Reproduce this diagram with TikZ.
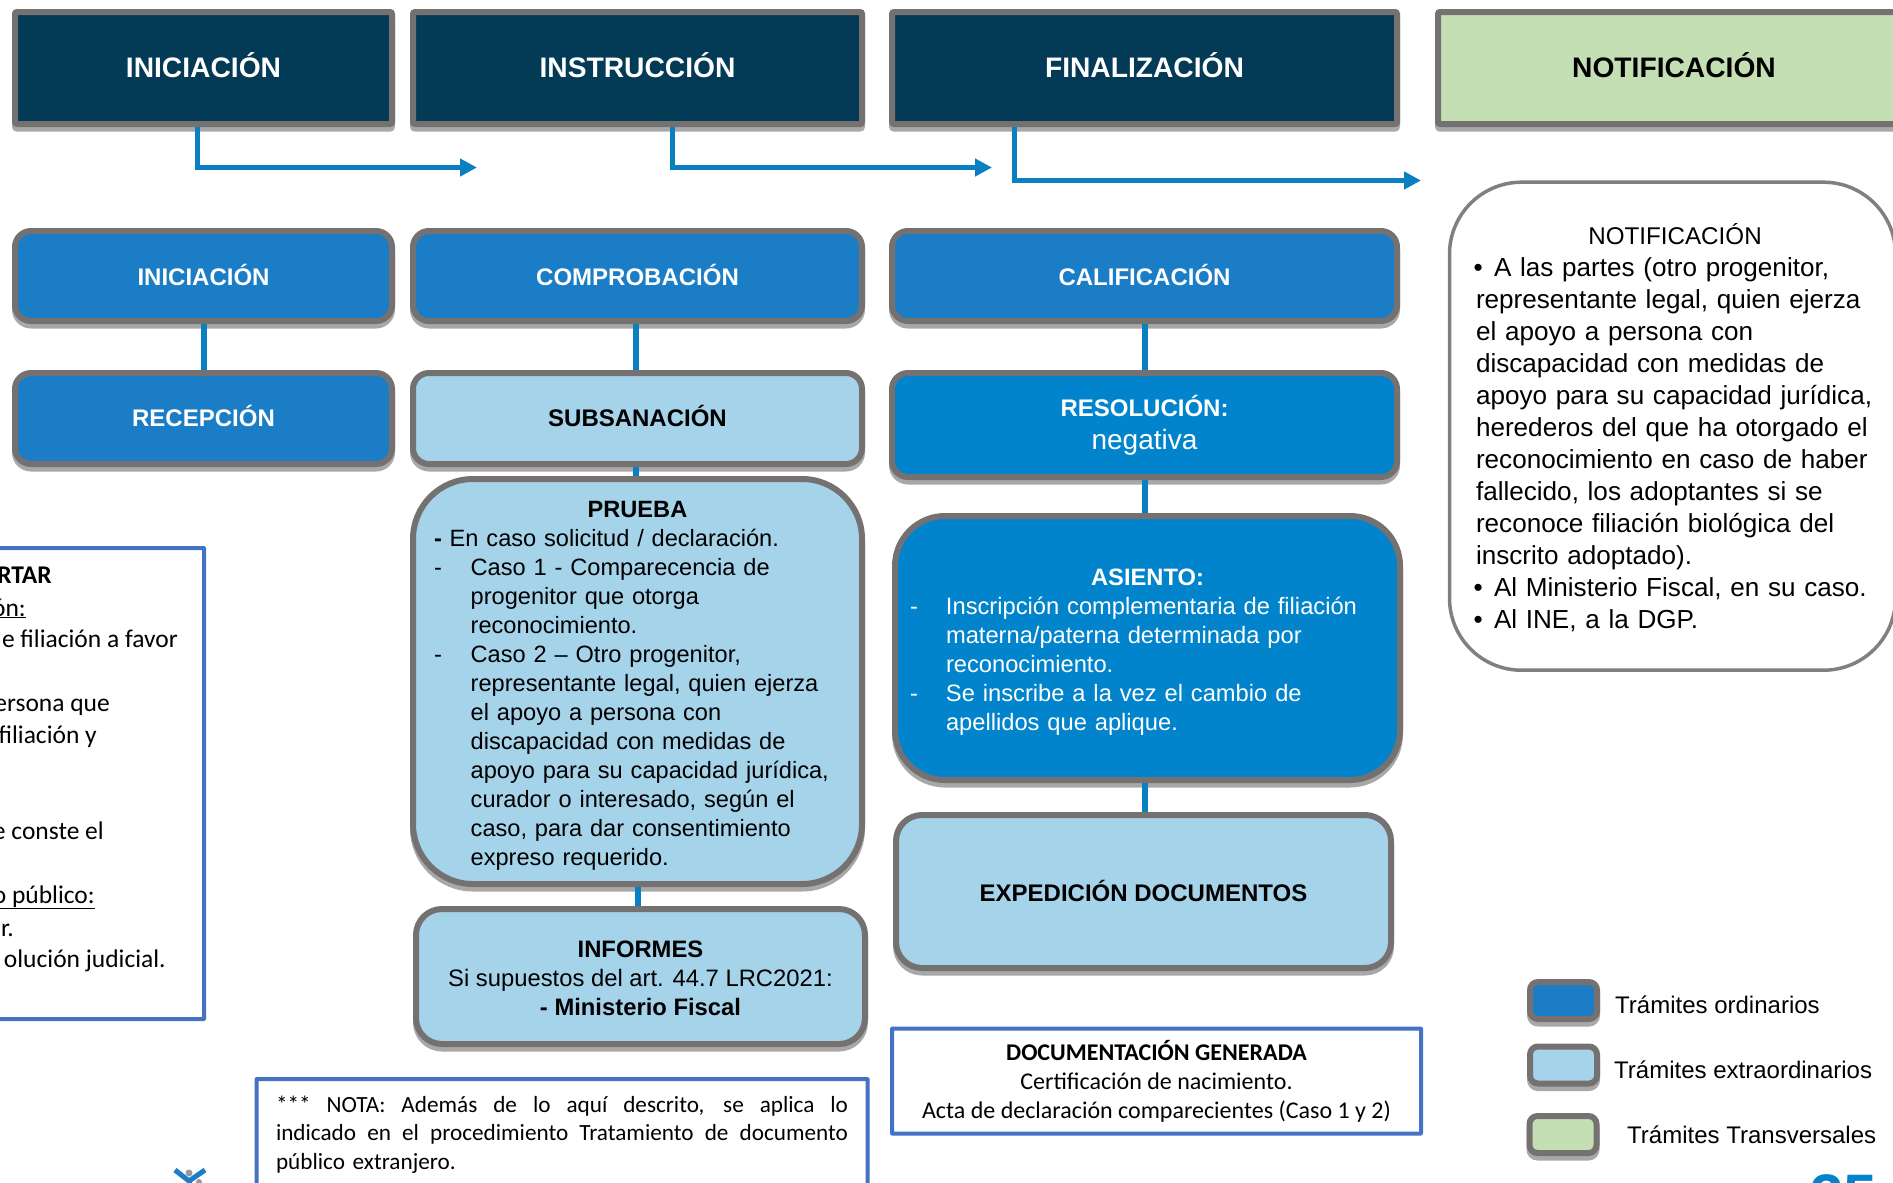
\documentclass[tikz,border=0pt]{standalone}
\usepackage{fontspec}
\setmainfont{Liberation Sans}
\newfontfamily\calib{Carlito}
\usetikzlibrary{arrows.meta,shadows,calc}
\definecolor{darknavy}{HTML}{033A56}
\definecolor{ordblue}{HTML}{1A7DC6}
\definecolor{resblue}{HTML}{0284CC}
\definecolor{lightblue}{HTML}{A5D3E9}
\definecolor{lightgreen}{HTML}{C5DFB4}
\definecolor{edgegrey}{HTML}{767171}
\definecolor{shadegrey}{HTML}{A8A8A8}
\definecolor{flowblue}{HTML}{0A7FC2}
\definecolor{noteblue}{HTML}{4472C4}
\newcommand\fsz[2]{\fontsize{#1pt}{#2pt}\selectfont}
\newcommand\bubline{\hspace*{3.5pt}}
\newcommand\bubitem{\makebox[18pt][l]{\hspace*{-2.5pt}•}}
\newcommand\fullline[1]{\leavevmode\hbox to 572pt{\spaceskip=5pt plus 1fil\relax #1}}
\tikzset{
  x=1pt,y=-1pt,
  boxbase/.style={draw=edgegrey,line width=6pt,inner sep=0pt,align=center,
    general shadow={fill=shadegrey,draw=shadegrey,line width=6pt,shadow yshift=-4.5pt}},
  topbox/.style={boxbase,rounded corners=2pt,font=\bfseries\fsz{28.2}{33},text depth=5pt},
  midbox/.style={boxbase,rounded corners=16pt,font=\bfseries\fsz{24}{29}},
  ordinary/.style={fill=ordblue,text=white},
  resolved/.style={fill=resblue,text=white},
  extra/.style={fill=lightblue,text=black},
  transversal/.style={fill=lightgreen,text=black},
  note/.style={draw=noteblue,line width=4pt,fill=white,inner sep=0pt,rounded corners=0.5pt},
  noteline/.style={font=\calib\fsz{25.5}{32},inner sep=0pt,anchor=base east},
  conn/.style={draw=flowblue,line width=6pt},
  flow/.style={draw=flowblue,line width=5pt,-{Triangle[length=17pt,width=17pt]}},
  legendbox/.style={boxbase,rounded corners=8pt,minimum width=67pt,minimum height=37pt},
  legendtext/.style={font=\fsz{24}{28},inner sep=0pt,anchor=west},
}
\begin{document}
\begin{tikzpicture}
\useasboundingbox (0,0) rectangle (1893,1183);
% top row
\node[topbox,fill=darknavy,text=white,minimum width=377pt,minimum height=112pt] (topini) at (203.5,68) {INICIACIÓN};
\node[topbox,fill=darknavy,text=white,minimum width=449pt,minimum height=112pt] (topins) at (637.5,68) {INSTRUCCIÓN};
\node[topbox,fill=darknavy,text=white,minimum width=505pt,minimum height=112pt] (topfin) at (1144.5,68) {FINALIZACIÓN};
\node[topbox,transversal,minimum width=472pt,minimum height=112pt] (topnot) at (1674,68) {NOTIFICACIÓN};
% second row
\node[midbox,ordinary,text depth=2.5pt,minimum width=377pt,minimum height=90pt] (ini) at (203.5,276) {INICIACIÓN};
\node[midbox,ordinary,text depth=2.5pt,minimum width=449pt,minimum height=90pt] (com) at (637.5,276) {COMPROBACIÓN};
\node[midbox,ordinary,text depth=2.5pt,minimum width=505pt,minimum height=90pt] (cal) at (1144.5,276) {CALIFICACIÓN};
% third row
\node[midbox,ordinary,text depth=5pt,minimum width=377pt,minimum height=91pt] (rec) at (203.5,418.5) {RECEPCIÓN};
\node[midbox,extra,text depth=5pt,minimum width=449pt,minimum height=91pt] (sub) at (637.5,418.5) {SUBSANACIÓN};
\node[midbox,resolved,minimum width=505pt,minimum height=104pt] (res) at (1144.5,425) {\rule{0pt}{22pt}RESOLUCIÓN:\\[3.4pt]{\mdseries\fsz{28}{31}negativa}};
% prueba
\node[boxbase,extra,rounded corners=60pt,minimum width=449pt,minimum height=405pt,text width=407pt,align=left,font=\fsz{23.6}{29}] (pru) at (637.5,681.5) {%
\makebox[407pt][c]{\rule{0pt}{24pt}\textbf{PRUEBA}}\\
\textbf{-} En caso solicitud / declaración.\\
\makebox[36.7pt][l]{-}Caso 1 - Comparecencia de\\
\hspace*{36.7pt}progenitor que otorga\\
\hspace*{36.7pt}reconocimiento.\\
\makebox[36.7pt][l]{-}Caso 2 – Otro progenitor,\\
\hspace*{36.7pt}representante legal, quien ejerza\\
\hspace*{36.7pt}el apoyo a persona con\\
\hspace*{36.7pt}discapacidad con medidas de\\
\hspace*{36.7pt}apoyo para su capacidad jurídica,\\
\hspace*{36.7pt}curador o interesado, según el\\
\hspace*{36.7pt}caso, para dar consentimiento\\
\hspace*{36.7pt}expreso requerido.};
% informes
\node[boxbase,extra,rounded corners=26pt,minimum width=449pt,minimum height=135pt,font=\fsz{23.8}{29}] (inf) at (640.5,976.5) {\rule{0pt}{20pt}\textbf{INFORMES}\\Si supuestos del art. 44.7 LRC2021:\\\textbf{- Ministerio Fiscal}};
% asiento
\node[boxbase,resolved,rounded corners=50pt,minimum width=505pt,minimum height=264pt,text width=475pt,align=left,font=\fsz{23.7}{29}] (asi) at (1147.5,648) {%
\makebox[475pt][c]{\rule{0pt}{24pt}\textbf{ASIENTO:}}\\
\makebox[36pt][l]{-}Inscripción complementaria de filiación\\
\hspace*{36pt}materna/paterna determinada por\\
\hspace*{36pt}reconocimiento.\\
\makebox[36pt][l]{-}Se inscribe a la vez el cambio de\\
\hspace*{36pt}apellidos que aplique.};
% expedicion
\node[boxbase,extra,rounded corners=26pt,minimum width=495pt,minimum height=153pt,text depth=2pt,font=\bfseries\fsz{24}{29}] (exp) at (1143.5,891.5) {EXPEDICIÓN DOCUMENTOS};
% notificacion bubble
\node[draw=gray,line width=3.5pt,fill=white,rounded corners=72pt,inner sep=0pt,minimum width=446pt,minimum height=488pt,text width=400pt,align=left,font=\fsz{26.1}{32}] (bub) at (1672.5,426.2) {%
\makebox[400pt][c]{\rule{0pt}{23pt}\hspace*{5pt}\fsz{24.2}{32}NOTIFICACIÓN}\\
\bubline\bubitem A las partes (otro progenitor,\\
\bubline representante legal, quien ejerza\\
\bubline el apoyo a persona con\\
\bubline discapacidad con medidas de\\
\bubline apoyo para su capacidad jurídica,\\
\bubline herederos del que ha otorgado el\\
\bubline reconocimiento en caso de haber\\
\bubline fallecido, los adoptantes si se\\
\bubline reconoce filiación biológica del\\
\bubline inscrito adoptado).\\
\bubline\bubitem Al Ministerio Fiscal, en su caso.\\
\bubline\bubitem Al INE, a la DGP.};
% left cropped note
\node[note,minimum width=404pt,minimum height=471pt] (left) at (2,783.5) {};
\node[noteline] (l1) at (52,583) {\textbf{RTAR}};
\node[noteline] (l2) at (26,616) {\underline{ón:}};
\node[noteline] (l3) at (178,647) {e filiación a favor};
\node[noteline] (l4) at (110,711) {ersona que};
\node[noteline] (l5) at (97,743) {filiación y};
\node[noteline] (l6) at (104,839) {e conste el};
\node[noteline] (l7) at (95,903) {\underline{o público:}};
\node[noteline] (l8) at (14,936) {r.};
\node[noteline] (l9) at (166,967) {olución judicial.};
% nota
\node[note,minimum width=611pt,minimum height=106pt,text width=572pt,align=left,font=\calib\fsz{23.2}{28.5}] (nota) at (562,1132) {\fullline{\rule{0pt}{21pt}*** NOTA: Además de lo aquí descrito, se aplica lo}\\\fullline{indicado en el procedimiento Tratamiento de documento}\\público extranjero.};
% documentacion
\node[note,minimum width=529pt,minimum height=105pt,align=center,font=\calib\fsz{24}{29}] (doc) at (1156.5,1081) {\textbf{DOCUMENTACIÓN GENERADA}\\Certificación de nacimiento.\\Acta de declaración comparecientes (Caso 1 y 2)};
% legend
\node[legendbox,ordinary] (leg1) at (1563.5,1000.5) {};
\node[legendbox,extra] (leg2) at (1563.5,1065) {};
\node[legendbox,transversal] (leg3) at (1563,1134.5) {};
\node[legendtext] (legt1) at (1615,1005) {Trámites ordinarios};
\node[legendtext] (legt2) at (1614,1070) {Trámites extraordinarios};
\node[legendtext] (legt3) at (1627,1135) {Trámites Transversales};
% connectors
\draw[conn] (ini.south) -- (ini.south |- rec.north);
\draw[conn] ([xshift=-1.5pt]com.south) -- ([xshift=-1.5pt]com.south |- sub.north);
\draw[conn] ([xshift=-1.5pt]sub.south) -- ([xshift=-1.5pt]sub.south |- pru.north);
\draw[conn] (pru.south) -- (pru.south |- inf.north);
\draw[conn] (cal.south) -- (cal.south |- res.north);
\draw[conn] (res.south) -- (res.south |- asi.north);
\draw[conn] ([xshift=-3pt]asi.south) -- ([xshift=-3pt]asi.south |- exp.north);
% phase arrows
\coordinate (endini) at (477,167.5);
\coordinate (endins) at (992,167.5);
\coordinate (endfin) at (1421,180.5);
\draw[flow] ([xshift=-6pt]topini.south) |- (endini);
\draw[flow] ([xshift=34.5pt]topins.south) |- (endins);
\draw[flow] ([xshift=-130pt]topfin.south) |- (endfin);
% logo, cropped at the page edge
\draw[ordblue,line width=5pt] (175,1170) -- (189,1181) -- (205,1170);
\draw[ordblue,line width=5pt] (189,1181) -- (189,1190);
\fill[gray!80] (189,1173) circle (3.5pt);
\fill[gray!80] (199,1182) circle (3pt);
% page number, cropped at the page edge
\node[font=\bfseries\fsz{60}{60},text=resblue,inner sep=0pt,anchor=base] (pagenum) at (1843.5,1216) {35};
\end{tikzpicture}
\end{document}
